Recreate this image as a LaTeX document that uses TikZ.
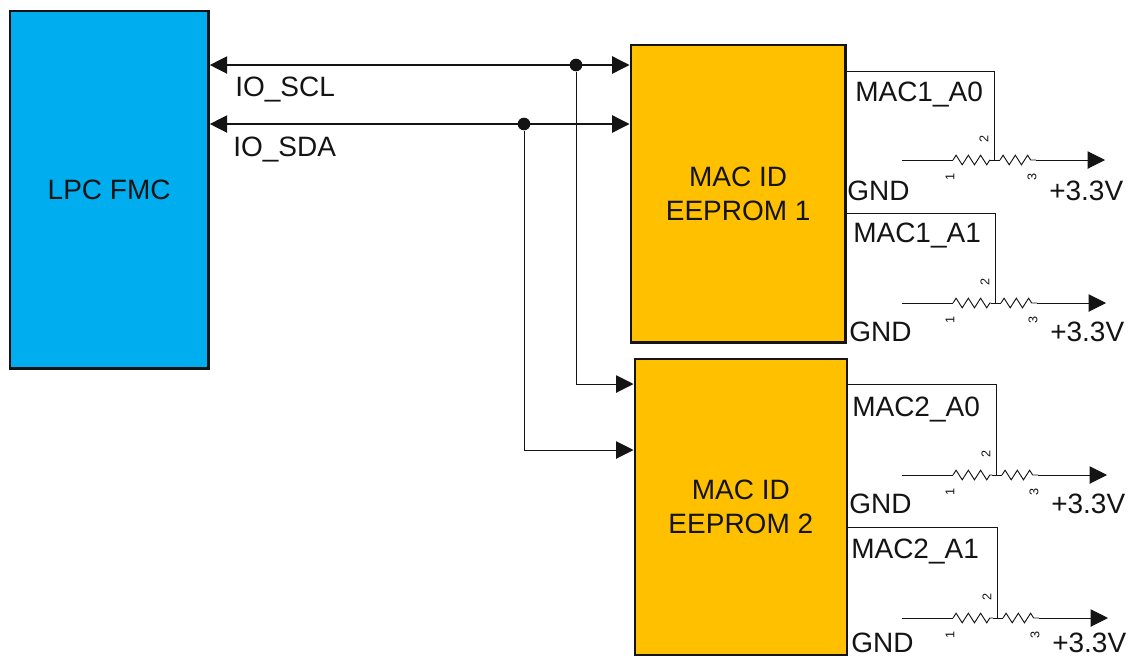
\documentclass[tikz,border=0pt]{standalone}
\usepackage{fontspec}
\setmainfont{Liberation Sans}
\usetikzlibrary{arrows.meta,decorations.pathmorphing}
\definecolor{fmcblue}{HTML}{00AEEF}
\definecolor{eeprom}{HTML}{FFC000}
\definecolor{ink}{HTML}{141414}
\tikzset{
  x=0.75pt,y=-0.75pt,
  every node/.style={text=ink},
  block/.style={draw=ink,line width=1.8pt,anchor=north west,inner sep=0,align=center,font=\fontsize{21}{25.5}\selectfont},
  wire/.style={draw=ink,line width=0.7pt},
  bus/.style={wire,line width=1pt},
  tip/.style={-{Triangle[length=13pt,width=13pt]}},
  tiptwo/.style={{Triangle[length=13pt,width=13pt]}-{Triangle[length=13pt,width=13pt]}},
  lab/.style={inner sep=0,anchor=west,font=\fontsize{21}{23}\selectfont},
  pinno/.style={inner sep=0,rotate=90,font=\fontsize{9.5}{10}\selectfont},
  dotn/.style={circle,fill=ink,draw=none,minimum size=9.5pt,inner sep=0},
  zig/.style={decorate,decoration={zigzag,segment length=9.2pt,amplitude=3.6pt}}
}
% #1 prefix, #2 top wire start x, #3 wiper x, #4 top y, #5 mid y, #6 label, #7 label x, #8 label y,
% #9 GND x; \gy is the y of the GND and +3.3V texts
\newcommand{\potunit}[9]{%
  \coordinate (#1s) at (#2,#4);
  \coordinate (#1c) at (#3,#4);
  \coordinate (#1w) at (#3,#5);
  \coordinate (#1l) at (902,#5);
  \coordinate (#1a) at (953,#5);
  \coordinate (#1b) at (#3-4,#5);
  \coordinate (#1d) at (#3+6,#5);
  \coordinate (#1e) at (#3+42,#5);
  \coordinate (#1r) at (#3+111,#5);
  \draw[wire] (#1s) -- (#1c) -- (#1w);
  \draw[wire] (#1l) -- (#1a);
  \draw[wire,zig] (#1a) -- (#1b);
  \draw[wire] (#1b) -- (#1d);
  \draw[wire,zig] (#1d) -- (#1e);
  \draw[wire,tip] (#1e) -- (#1r);
  \node[lab] (#1name) at (#7,#8) {#6};
  \node[lab] (#1gnd) at (#9,\gy) {GND};
  \node[lab] (#1v) at (#3+55,\gy) {+3.3V};
  \node[pinno] (#1p2) at (#3-10,#5-21) {2};
  \node[pinno] (#1p1) at (950,#5+17) {1};
  \node[pinno] (#1p3) at (#3+38,#5+17) {3};
}
\begin{document}
\begin{tikzpicture}
\useasboundingbox (0,0) rectangle (1131,658);
\node[block,fill=fmcblue,minimum width=149.2pt,minimum height=268.2pt] (fmc) at (8.5,9.5) {LPC FMC};
\node[block,fill=eeprom,minimum width=161.2pt,minimum height=223.2pt] (e1) at (629.5,43.5) {MAC ID\\EEPROM 1};
\node[block,fill=eeprom,minimum width=159.2pt,minimum height=222.2pt] (e2) at (633.5,357.5) {MAC ID\\EEPROM 2};
\coordinate (sclL) at (fmc.east |- 0,65);
\coordinate (sclR) at (e1.west |- 0,65);
\coordinate (sdaL) at (fmc.east |- 0,124);
\coordinate (sdaR) at (e1.west |- 0,124);
\node[dotn] (d1) at (576,65) {};
\node[dotn] (d2) at (524,124) {};
\coordinate (s2) at (e2.west |- 0,384);
\coordinate (a2) at (e2.west |- 0,450);
\draw[bus,tiptwo] (sclL) -- (sclR);
\draw[bus,tiptwo] (sdaL) -- (sdaR);
\draw[wire,tip] (d1) |- (s2);
\draw[wire,tip] (d2) |- (a2);
\node[lab] (scl) at (235,90) {IO\_SCL};
\node[lab] (sda) at (233,149) {IO\_SDA};
\def\gy{191}
\potunit{a}{846}{994}{71}{160}{MAC1\_A0}{855}{94}{847}
\def\gy{332}
\potunit{b}{846}{995}{213}{303}{MAC1\_A1}{853}{235}{849}
\def\gy{504}
\potunit{c}{847}{996}{384}{475}{MAC2\_A0}{852}{409}{849}
\def\gy{643}
\potunit{d}{847}{997}{527}{618}{MAC2\_A1}{851}{551}{851}
\end{tikzpicture}
\end{document}
